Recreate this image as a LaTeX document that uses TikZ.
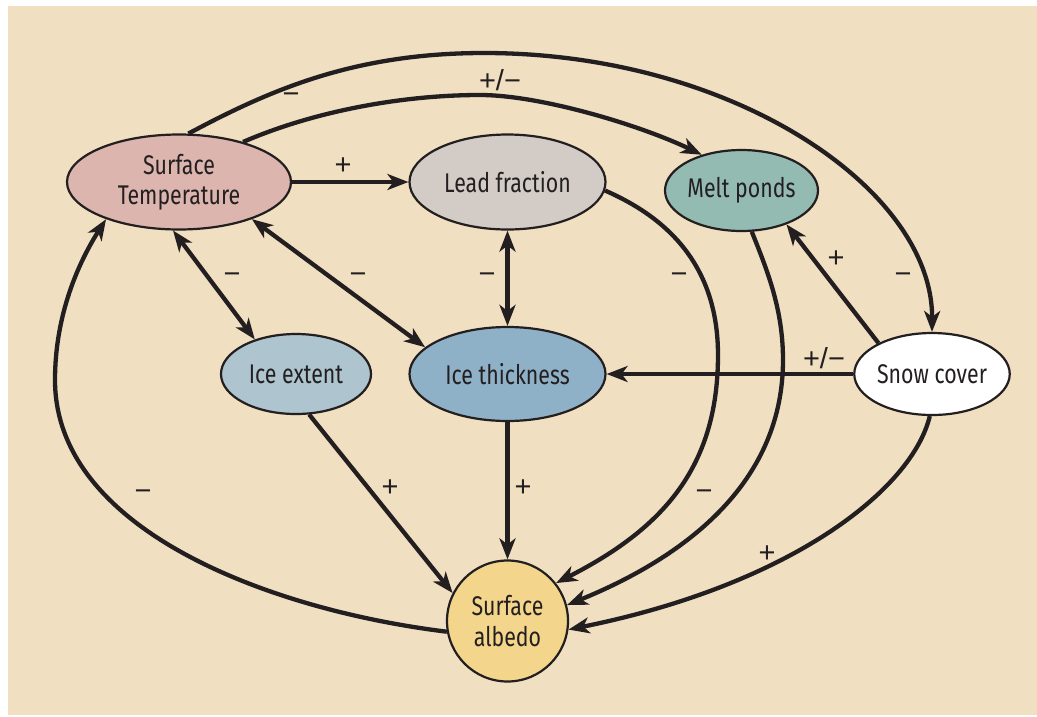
\documentclass[tikz,border=0pt]{standalone}
\usepackage{fontspec}
\setmainfont{Fira Sans}[FakeStretch=0.79]
\newfontfamily\lblfont{Liberation Sans}
\usetikzlibrary{arrows.meta,shapes.geometric}
\definecolor{bg}{HTML}{F0E0C1}
\definecolor{ink}{HTML}{231F20}
\definecolor{stc}{HTML}{DBB5AE}
\definecolor{lfc}{HTML}{D3CCC6}
\definecolor{mpc}{HTML}{94BBB2}
\definecolor{iec}{HTML}{AEC4CE}
\definecolor{itc}{HTML}{8FB1C7}
\definecolor{alc}{HTML}{F3D68B}
\begin{document}
\begin{tikzpicture}[x=1pt,y=-1pt,
  >={Stealth[length=21pt,width=16pt,inset=6pt]},
  ell/.style={ellipse,draw=ink,text=ink,line width=2.2pt,inner sep=0pt,font=\fontsize{27}{30}\selectfont,align=center},
  circ/.style={circle,draw=ink,text=ink,line width=2.2pt,inner sep=0pt,font=\fontsize{27}{31}\selectfont,align=center},
  conn/.style={draw=ink,line width=4.3pt},
  lbl/.style={text=ink,font=\lblfont\fontsize{29}{29}\selectfont,inner sep=0pt}]
\fill[white] (0,0) rectangle (1037,716);
\fill[bg] (8,6) rectangle (1037,715);
\useasboundingbox (0,0) rectangle (1037,716);
% nodes
\node[ell,fill=stc,minimum width=224pt,minimum height=95pt] (st) at (179,182) {Surface\\Temperature};
\node[ell,fill=lfc,minimum width=196pt,minimum height=95pt] (lf) at (507.5,182) {Lead fraction};
\node[ell,fill=mpc,minimum width=149pt,minimum height=81pt] (mp) at (741.5,190.5) {Melt ponds};
\node[ell,fill=white,minimum width=150pt,minimum height=82pt] (sc) at (932,374) {Snow cover};
\node[ell,fill=iec,minimum width=150pt,minimum height=80pt] (ie) at (296,374) {Ice extent};
\node[ell,fill=itc,minimum width=196pt,minimum height=94pt] (it) at (507.5,374) {Ice thickness};
\node[circ,fill=alc,minimum size=121pt] (al) at (507.5,621) {Surface\\albedo};
% waypoints
\coordinate (outtop) at (484,53);
\coordinate (intop) at (480,95);
\coordinate (lfmid) at (718,355);
\coordinate (mpmid) at (783,360);
\coordinate (almid) at (55,380);
% connectors
\draw[conn,->] (st.east) -- (lf.west);
\draw[conn,<->] (st.-97) -- (ie.140);
\draw[conn,<->] (st.-27.5) -- (it.162);
\draw[conn,<->] (lf.south) -- (it.north);
\draw[conn,->] (sc.west) -- (it.east);
\draw[conn,->] (sc.150) -- (mp.-37);
\draw[conn,->] (st.79) .. controls (270,90) and (354,53) .. (outtop) .. controls (734,53) and (933,190) .. (sc.north);
\draw[conn,->] (st.32) .. controls (312,112) and (400,95) .. (intop) .. controls (540,95) and (640,125) .. (mp.138);
\draw[conn,->] (lf.-5) .. controls (661,215) and (718,260) .. (lfmid) .. controls (718,470) and (660,530) .. (al.38);
\draw[conn,->] (mp.-76) .. controls (768,272) and (783,310) .. (mpmid) .. controls (783,480) and (690,555) .. (al.15);
\draw[conn,->] (sc.-93) .. controls (912,490) and (790,585) .. (al.-8);
\draw[conn,->] (al.190) .. controls (270,610) and (55,530) .. (almid) .. controls (55,320) and (75,268) .. (st.-153);
\draw[conn,->] (ie.-72) -- (al.153);
\draw[conn,->] (it.south) -- (al.north);
% labels
\node[lbl] (l1) at (343,166) {+};
\node[lbl] (l2) at (291,98) {−};
\node[lbl] (l3) at (500,80) {+/−};
\node[lbl] (l4) at (232,278) {−};
\node[lbl] (l5) at (358,278) {−};
\node[lbl] (l6) at (487,278) {−};
\node[lbl] (l7) at (679,278) {−};
\node[lbl] (l8) at (836,259) {+};
\node[lbl] (l9) at (903,278) {−};
\node[lbl] (l10) at (824,358) {+/−};
\node[lbl] (l11) at (390,488) {+};
\node[lbl] (l12) at (523,488) {+};
\node[lbl] (l13) at (143,495) {−};
\node[lbl] (l14) at (704,495) {−};
\node[lbl] (l15) at (767,554) {+};
\end{tikzpicture}
\end{document}
